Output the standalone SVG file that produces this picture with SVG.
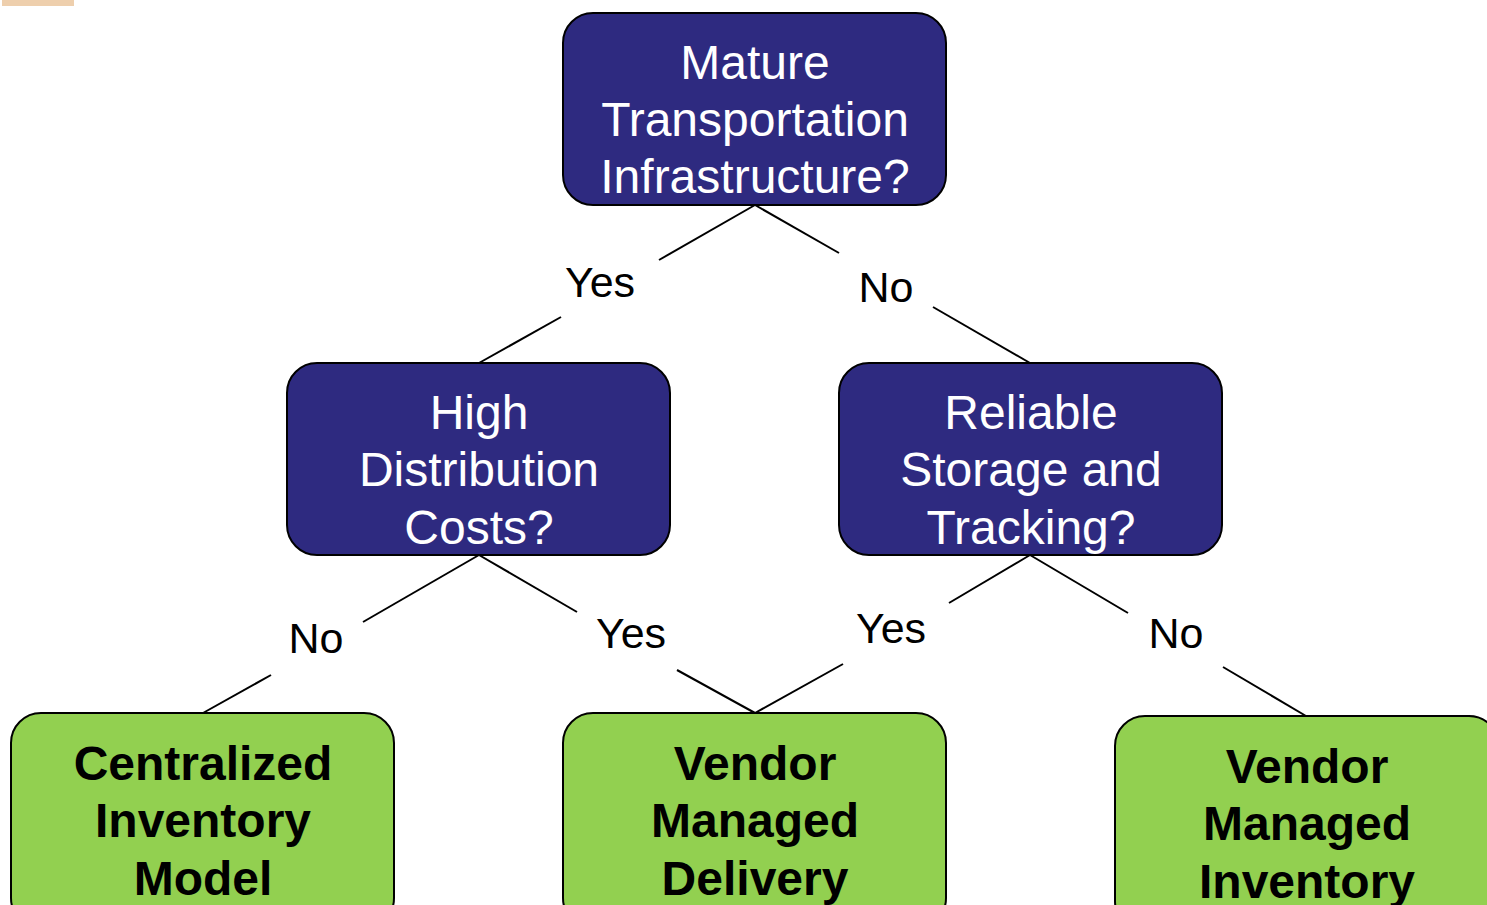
<svg xmlns="http://www.w3.org/2000/svg" width="1487" height="905" viewBox="0 0 1487 905">
<style>
.q rect{fill:#2E2A80;stroke:#000;stroke-width:2}
.a rect{fill:#92D050;stroke:#000;stroke-width:2}
.q text{fill:#fff;font-family:"Liberation Sans",Arial,sans-serif;font-size:48px;text-anchor:middle}
.a text{fill:#000;font-family:"Liberation Sans",Arial,sans-serif;font-size:48px;font-weight:bold;text-anchor:middle}
.lbl{fill:#000;font-family:"Liberation Sans",Arial,sans-serif;font-size:43px;text-anchor:middle}
#connectors line{stroke:#000;stroke-width:2}
</style>
<rect width="1487" height="905" fill="#fff"/>
<rect x="2" y="0" width="72" height="6" fill="#D9954A" opacity="0.45"/>
<g id="connectors">
<line x1="755" y1="205" x2="659" y2="260"/>
<line x1="561" y1="317" x2="479" y2="363"/>
<line x1="755" y1="205" x2="839" y2="253"/>
<line x1="933" y1="307" x2="1030" y2="363"/>
<line x1="479" y1="555" x2="363" y2="622"/>
<line x1="271" y1="675" x2="203" y2="713"/>
<line x1="479" y1="555" x2="577" y2="612"/>
<line x1="677" y1="670" x2="755" y2="713"/>
<line x1="1030" y1="555" x2="949" y2="603"/>
<line x1="843" y1="664" x2="755" y2="713"/>
<line x1="1030" y1="555" x2="1128" y2="613"/>
<line x1="1223" y1="667" x2="1306" y2="716"/>
<text class="lbl" x="600" y="297">Yes</text>
<text class="lbl" x="886" y="302">No</text>
<text class="lbl" x="316" y="653">No</text>
<text class="lbl" x="631" y="648">Yes</text>
<text class="lbl" x="891" y="643">Yes</text>
<text class="lbl" x="1176" y="648">No</text>
</g>
<g id="n-mature" class="q">
<rect x="563" y="13" width="383" height="192" rx="30"/>
<text x="755" y="79">Mature</text>
<text x="755" y="136">Transportation</text>
<text x="755" y="193">Infrastructure?</text>
</g>
<g id="n-high" class="q">
<rect x="287" y="363" width="383" height="192" rx="30"/>
<text x="479" y="429">High</text>
<text x="479" y="486">Distribution</text>
<text x="479" y="544">Costs?</text>
</g>
<g id="n-reliable" class="q">
<rect x="839" y="363" width="383" height="192" rx="30"/>
<text x="1031" y="429">Reliable</text>
<text x="1031" y="486">Storage and</text>
<text x="1031" y="544">Tracking?</text>
</g>
<g id="n-centralized" class="a">
<rect x="11" y="713" width="383" height="215" rx="30"/>
<text x="203" y="780">Centralized</text>
<text x="203" y="837">Inventory</text>
<text x="203" y="895">Model</text>
</g>
<g id="n-vmd" class="a">
<rect x="563" y="713" width="383" height="215" rx="30"/>
<text x="755" y="780">Vendor</text>
<text x="755" y="837">Managed</text>
<text x="755" y="895">Delivery</text>
</g>
<g id="n-vmi" class="a">
<rect x="1115" y="716" width="384" height="215" rx="30"/>
<text x="1307" y="783">Vendor</text>
<text x="1307" y="840">Managed</text>
<text x="1307" y="898">Inventory</text>
</g>
</svg>
